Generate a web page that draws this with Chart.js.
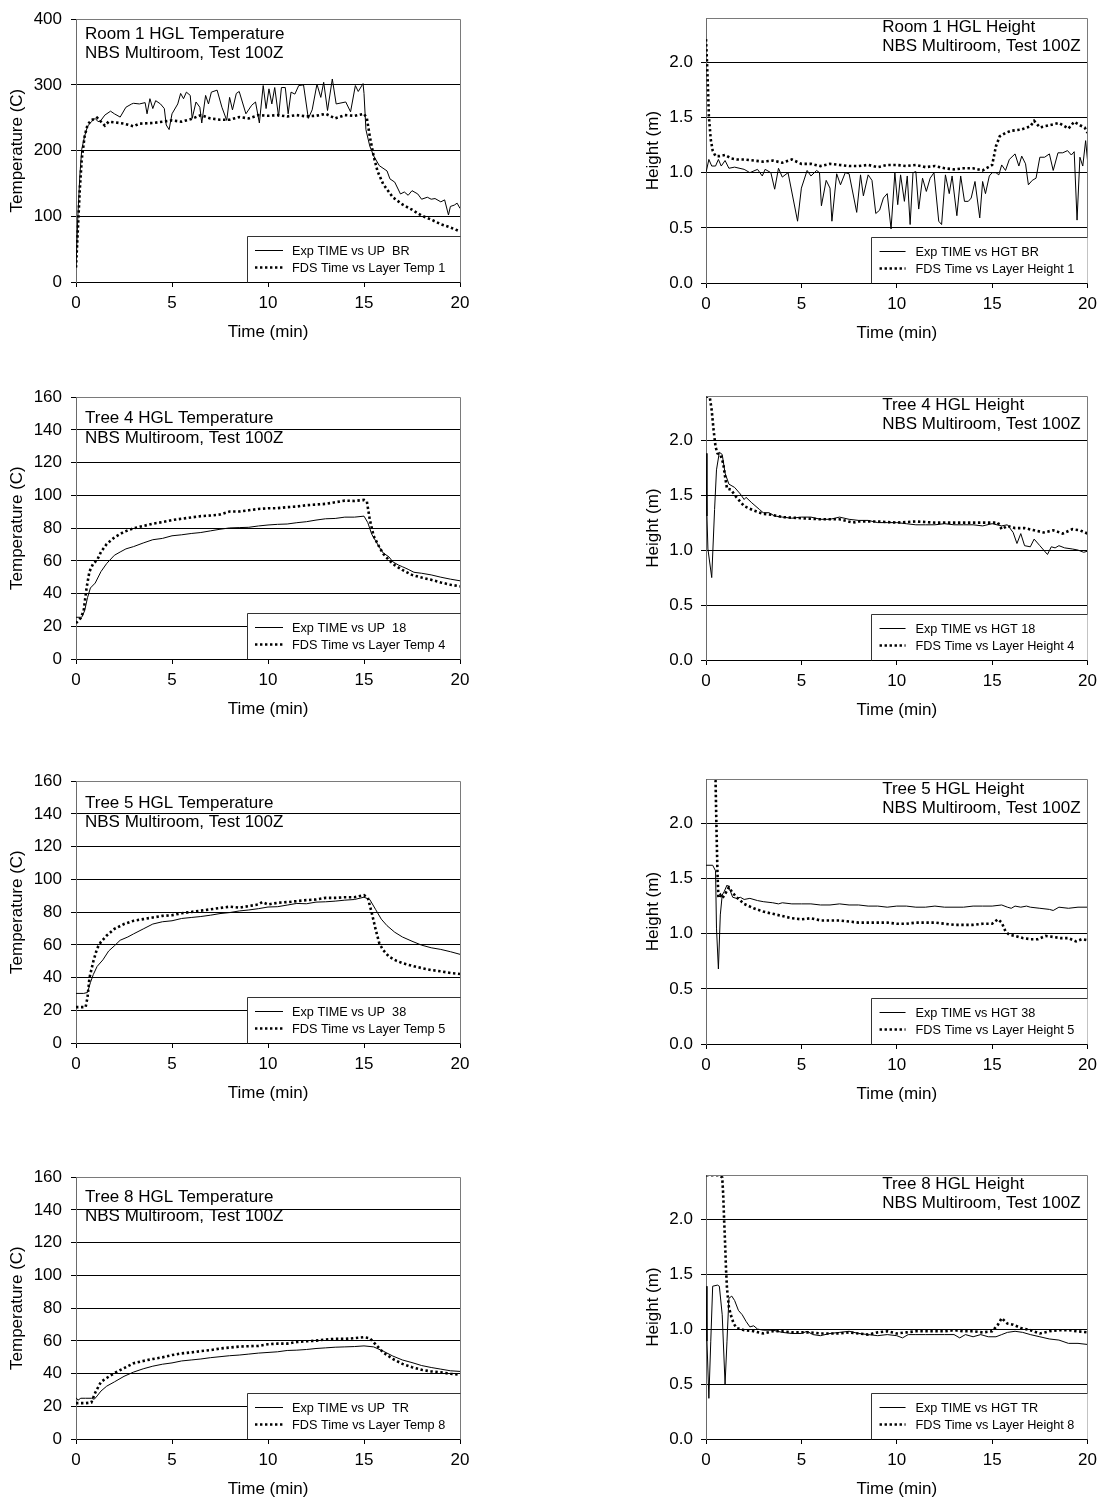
<!DOCTYPE html>
<html>
<head>
<meta charset="utf-8">
<script src="https://cdn.jsdelivr.net/npm/chart.js@4.4.0/dist/chart.umd.min.js"></script>
<style>
  html, body { margin: 0; padding: 0; background: #fff; }
  body { width: 1103px; height: 1502px; position: relative; overflow: hidden; }
  canvas { position: absolute; }
</style>
</head>
<body>
<canvas id="c0"></canvas><canvas id="c1"></canvas>
<canvas id="c2"></canvas><canvas id="c3"></canvas>
<canvas id="c4"></canvas><canvas id="c5"></canvas>
<canvas id="c6"></canvas><canvas id="c7"></canvas>
<script>
// ---------- DATA: [time (min), value] ----------
const room1TempExp = [[0,22],[0.1,102],[0.2,162],[0.3,202],[0.45,222],[0.6,237],[0.8,244],[1.0,249],[1.15,244],[1.3,246],[1.5,254],[1.8,260],[2.0,256],[2.3,251],[2.6,266],[2.9,271],[3.0,272],[3.3,271],[3.6,273],[3.7,256],[3.85,279],[4.0,264],[4.15,276],[4.4,271],[4.6,264],[4.7,239],[4.85,232],[5.0,256],[5.3,271],[5.45,287],[5.6,279],[5.75,289],[5.95,284],[6.05,249],[6.25,274],[6.45,266],[6.55,242],[6.75,284],[6.9,271],[7.05,289],[7.35,292],[7.6,266],[7.85,246],[8.0,281],[8.15,262],[8.35,287],[8.5,290],[8.85,256],[9.15,269],[9.35,274],[9.55,242],[9.75,299],[9.9,264],[10.05,294],[10.2,271],[10.35,296],[10.55,252],[10.7,296],[10.9,296],[11.05,256],[11.2,289],[11.4,286],[11.6,299],[11.85,300],[12.1,249],[12.3,262],[12.55,301],[12.75,281],[12.9,304],[13.1,261],[13.35,309],[13.55,271],[14.05,274],[14.3,259],[14.55,299],[14.7,290],[14.95,302],[15.0,287],[15.1,232],[15.3,207],[15.5,192],[15.8,177],[16.2,169],[16.35,157],[16.6,152],[16.9,134],[17.1,137],[17.3,132],[17.5,139],[17.8,134],[18.0,126],[18.3,129],[18.5,126],[18.7,127],[19.0,122],[19.2,125],[19.4,102],[19.5,115],[19.7,117],[19.85,120],[20.0,112]];
const room1TempFds = [[0,22],[0.1,82],[0.2,142],[0.3,187],[0.45,222],[0.6,239],[0.8,247],[1.0,248],[1.1,250],[1.3,244],[1.5,238],[1.7,244],[2.0,243],[2.5,241],[3.0,237],[3.3,241],[4.0,242],[4.5,244],[5.0,246],[5.5,244],[6.0,248],[6.5,254],[7.0,249],[7.5,247],[8.0,247],[8.5,251],[9.0,249],[9.5,254],[10.0,253],[10.5,254],[11.0,252],[11.5,254],[12.0,252],[12.5,253],[13.0,256],[13.5,249],[14.0,254],[14.5,253],[15.0,256],[15.15,249],[15.3,222],[15.5,192],[15.7,169],[16.0,149],[16.5,129],[17.0,118],[17.5,110],[18.0,101],[18.5,95],[19.0,88],[19.5,83],[20.0,77]];

const room1HgtExp = [[0,1.00],[0.15,1.12],[0.3,1.06],[0.5,1.06],[0.65,1.12],[0.8,1.06],[1.0,1.11],[1.2,1.04],[1.5,1.05],[2.0,1.03],[2.3,1.00],[2.7,1.03],[2.95,0.97],[3.1,1.03],[3.4,1.00],[3.6,0.85],[3.8,1.04],[4.0,0.96],[4.3,1.00],[4.8,0.56],[5.0,0.86],[5.3,1.02],[5.5,0.97],[5.8,1.02],[5.95,1.00],[6.05,0.70],[6.3,0.93],[6.5,0.86],[6.6,0.56],[6.85,0.99],[7.05,0.89],[7.3,1.00],[7.5,0.99],[7.9,0.64],[8.1,0.98],[8.25,0.79],[8.5,0.98],[8.7,0.93],[8.9,0.63],[9.1,0.66],[9.3,0.77],[9.5,0.81],[9.7,0.49],[9.9,1.00],[10.05,0.71],[10.2,0.98],[10.4,0.74],[10.55,0.97],[10.7,0.53],[10.85,1.00],[11.0,1.01],[11.15,0.67],[11.35,0.95],[11.55,0.83],[11.75,0.95],[11.95,1.00],[12.2,0.56],[12.35,0.53],[12.55,0.98],[12.75,0.81],[12.9,0.97],[13.15,0.61],[13.35,0.97],[13.55,0.74],[13.75,0.74],[13.9,0.77],[14.1,0.92],[14.35,0.59],[14.5,0.92],[14.65,0.81],[14.85,0.97],[15.0,1.00],[15.2,1.00],[15.35,0.98],[15.5,1.07],[15.7,1.02],[15.9,1.12],[16.2,1.17],[16.4,1.06],[16.55,1.15],[16.75,1.08],[16.9,0.89],[17.1,0.93],[17.3,0.95],[17.5,1.14],[17.75,1.14],[18.0,1.17],[18.2,1.02],[18.45,1.18],[18.7,1.18],[18.95,1.20],[19.15,1.16],[19.3,1.19],[19.45,0.57],[19.6,1.14],[19.75,1.06],[19.9,1.29],[20.0,1.11]];
const room1HgtFds = [[0,2.21],[0.05,2.01],[0.1,1.78],[0.15,1.51],[0.25,1.30],[0.35,1.20],[0.5,1.15],[0.7,1.15],[1.0,1.16],[1.3,1.13],[1.6,1.12],[2.0,1.12],[2.5,1.11],[3.0,1.10],[3.5,1.11],[4.0,1.09],[4.5,1.12],[5.0,1.08],[5.5,1.08],[6.0,1.06],[6.5,1.08],[7.0,1.07],[7.5,1.06],[8.0,1.06],[8.5,1.07],[9.0,1.05],[9.5,1.07],[10.0,1.07],[10.5,1.06],[11.0,1.07],[11.5,1.05],[12.0,1.06],[12.5,1.04],[13.0,1.03],[13.5,1.04],[14.0,1.04],[14.5,1.02],[14.8,1.05],[15.0,1.07],[15.2,1.24],[15.4,1.33],[15.7,1.36],[16.0,1.38],[16.5,1.39],[17.0,1.42],[17.2,1.47],[17.5,1.41],[18.0,1.43],[18.5,1.45],[19.0,1.40],[19.3,1.46],[19.6,1.43],[19.85,1.41],[20.0,1.36]];

const tree4TempExp = [[0,25.5],[0.3,25.5],[0.45,29.5],[0.6,37.5],[0.75,43.4],[1.0,46.4],[1.3,53.4],[1.6,58.4],[2.0,63.4],[2.3,65.4],[2.6,67.3],[3.0,68.7],[3.5,70.9],[4.0,72.9],[4.5,73.7],[5.0,75.3],[5.5,75.9],[6.0,76.7],[6.5,77.3],[7.0,78.3],[7.5,79.3],[8.0,80.1],[8.5,80.3],[9.0,80.5],[9.5,81.3],[10.0,81.9],[10.5,82.3],[11.0,82.5],[11.5,83.3],[12.0,83.9],[12.5,84.9],[13.0,85.7],[13.5,85.9],[14.0,86.7],[14.5,86.7],[15.0,87.3],[15.2,83.3],[15.4,76.3],[15.6,72.3],[15.8,68.3],[16.0,64.8],[16.3,62.4],[16.5,59.4],[16.8,57.4],[17.0,56.4],[17.3,54.8],[17.6,53.0],[18.0,52.4],[18.5,51.4],[19.0,50.0],[19.5,48.8],[20.0,47.8]];
const tree4TempFds = [[0,21.9],[0.25,25.1],[0.4,29.5],[0.55,43.4],[0.7,53.4],[0.9,58.4],[1.1,60.4],[1.3,65.4],[1.6,70.3],[2.0,74.3],[2.5,77.7],[3.0,79.9],[3.5,81.3],[4.0,82.7],[4.5,83.7],[5.0,84.9],[5.5,85.7],[6.0,86.5],[6.5,87.3],[7.0,87.7],[7.5,88.3],[8.0,90.1],[8.5,90.1],[9.0,90.9],[9.5,91.7],[10.0,92.1],[10.5,92.2],[11.0,92.8],[11.5,93.2],[12.0,94.0],[12.5,94.4],[13.0,94.8],[13.5,95.8],[14.0,96.8],[14.5,96.6],[15.0,97.2],[15.15,96.2],[15.3,85.3],[15.5,75.3],[15.8,68.3],[16.0,64.4],[16.3,60.4],[16.6,57.4],[17.0,54.4],[17.5,51.4],[18.0,49.8],[18.5,48.4],[19.0,46.8],[19.5,45.4],[20.0,44.4]];

const tree4HgtExp = [[0,1.88],[0.05,1.31],[0.1,1.01],[0.3,0.75],[0.45,1.37],[0.55,1.73],[0.7,1.89],[0.85,1.87],[1.0,1.70],[1.2,1.60],[1.5,1.57],[1.8,1.51],[2.0,1.46],[2.1,1.48],[2.4,1.43],[2.8,1.37],[3.0,1.34],[3.3,1.34],[3.6,1.31],[4.0,1.30],[4.5,1.29],[5.0,1.30],[5.5,1.30],[6.0,1.28],[6.5,1.28],[7.0,1.30],[7.5,1.28],[8.0,1.27],[8.5,1.27],[9.0,1.25],[9.5,1.25],[10.0,1.25],[10.5,1.24],[11.0,1.23],[11.5,1.23],[12.0,1.23],[12.5,1.24],[13.0,1.23],[13.5,1.23],[14.0,1.23],[14.5,1.22],[15.0,1.24],[15.5,1.22],[15.8,1.23],[16.1,1.16],[16.3,1.06],[16.5,1.15],[16.7,1.04],[17.0,1.03],[17.2,1.10],[17.5,1.04],[17.9,0.96],[18.1,1.03],[18.3,1.02],[18.5,1.04],[18.8,1.02],[19.2,1.01],[19.5,1.00],[19.8,0.98],[20.0,0.99]];
const tree4HgtFds = [[0,2.40],[0.2,2.39],[0.3,2.27],[0.4,2.09],[0.5,1.94],[0.6,1.88],[0.75,1.87],[0.9,1.79],[1.0,1.67],[1.1,1.56],[1.3,1.55],[1.6,1.48],[2.0,1.40],[2.5,1.36],[3.0,1.33],[3.5,1.32],[4.0,1.30],[5.0,1.29],[6.0,1.28],[7.0,1.28],[7.7,1.25],[8.0,1.26],[9.0,1.26],[10.0,1.25],[11.0,1.26],[12.0,1.25],[13.0,1.25],[14.0,1.25],[15.0,1.25],[15.3,1.25],[15.5,1.19],[15.8,1.22],[16.2,1.20],[16.7,1.20],[17.2,1.18],[17.7,1.16],[18.2,1.18],[18.7,1.15],[19.2,1.19],[19.6,1.18],[20.0,1.15]];

const tree5TempExp = [[0,30.3],[0.4,30.3],[0.6,30.9],[0.75,36.9],[0.9,41.8],[1.1,46.8],[1.4,50.8],[1.7,56.2],[2.0,59.4],[2.3,62.8],[2.7,64.8],[3.0,66.7],[3.5,69.7],[4.0,72.7],[4.5,74.1],[5.0,74.7],[5.5,76.1],[6.0,76.7],[6.5,77.3],[7.0,78.1],[7.5,79.1],[8.0,79.7],[8.5,80.7],[9.0,81.3],[9.5,82.1],[10.0,83.1],[10.5,83.3],[11.0,84.3],[11.5,85.3],[12.0,85.1],[12.5,86.1],[13.0,86.3],[13.5,86.7],[14.0,87.3],[14.5,87.7],[15.0,89.1],[15.3,87.7],[15.6,81.7],[15.9,75.7],[16.2,71.7],[16.6,67.7],[17.0,64.8],[17.5,62.2],[18.0,59.8],[18.5,58.2],[19.0,57.2],[19.5,55.8],[20.0,54.2]];
const tree5TempFds = [[0,21.9],[0.5,21.9],[0.6,27.9],[0.7,39.8],[0.9,49.8],[1.1,57.8],[1.3,61.8],[1.6,65.7],[2.0,69.7],[2.5,72.7],[3.0,74.7],[3.5,75.7],[4.0,76.7],[4.5,77.7],[5.0,78.1],[5.5,79.3],[6.0,80.1],[6.5,80.9],[7.0,81.7],[7.5,82.5],[8.0,83.3],[8.5,82.7],[9.0,83.7],[9.5,84.7],[9.7,86.1],[10.0,84.7],[10.5,85.7],[11.0,86.1],[11.5,86.7],[12.0,87.3],[12.5,87.7],[13.0,88.7],[13.5,88.7],[14.0,89.1],[14.5,89.1],[15.0,90.3],[15.2,88.7],[15.4,79.7],[15.6,69.7],[15.8,60.8],[16.0,56.8],[16.3,52.8],[16.7,50.2],[17.0,48.8],[17.5,47.2],[18.0,45.8],[18.5,44.6],[19.0,43.8],[19.5,42.8],[20.0,42.2]];

const tree5HgtExp = [[0,1.62],[0.35,1.62],[0.5,1.57],[0.55,1.05],[0.65,0.68],[0.75,1.17],[0.85,1.35],[0.95,1.38],[1.1,1.44],[1.2,1.42],[1.4,1.33],[1.6,1.32],[1.8,1.33],[2.0,1.31],[2.3,1.32],[2.7,1.30],[3.0,1.29],[3.5,1.28],[3.8,1.27],[4.0,1.28],[4.5,1.27],[5.0,1.27],[5.5,1.27],[6.0,1.26],[6.5,1.26],[7.0,1.27],[7.5,1.26],[8.0,1.26],[8.5,1.25],[9.0,1.25],[9.5,1.24],[10.0,1.25],[10.5,1.25],[11.0,1.24],[11.5,1.24],[12.0,1.25],[12.5,1.24],[13.0,1.24],[13.5,1.24],[14.0,1.25],[14.5,1.25],[15.0,1.25],[15.5,1.26],[15.8,1.24],[16.0,1.23],[16.2,1.25],[16.5,1.24],[16.8,1.25],[17.0,1.24],[17.5,1.23],[18.0,1.22],[18.2,1.21],[18.5,1.24],[19.0,1.23],[19.5,1.24],[20.0,1.24]];
const tree5HgtFds = [[0,2.41],[0.4,2.41],[0.5,2.39],[0.55,1.95],[0.6,1.56],[0.65,1.33],[0.75,1.35],[0.85,1.32],[1.0,1.36],[1.2,1.42],[1.4,1.37],[1.6,1.33],[2.0,1.27],[2.5,1.23],[3.0,1.20],[3.5,1.18],[4.0,1.16],[4.5,1.14],[5.0,1.13],[5.5,1.14],[6.0,1.12],[6.5,1.12],[7.0,1.12],[7.5,1.11],[8.0,1.10],[8.5,1.10],[9.0,1.10],[9.5,1.10],[10.0,1.09],[10.5,1.09],[11.0,1.10],[11.5,1.10],[12.0,1.10],[12.5,1.09],[13.0,1.08],[13.5,1.08],[14.0,1.08],[14.5,1.09],[15.0,1.09],[15.3,1.13],[15.5,1.10],[15.7,1.02],[15.9,0.99],[16.2,0.98],[16.6,0.96],[17.0,0.95],[17.4,0.95],[17.8,0.98],[18.2,0.97],[18.6,0.96],[19.0,0.96],[19.4,0.93],[19.7,0.95],[20.0,0.94]];

const tree8TempExp = [[0,25.3],[0.1,23.7],[0.25,24.9],[0.5,24.9],[0.8,24.9],[0.95,24.3],[1.1,26.3],[1.3,29.3],[1.6,32.3],[2.0,34.9],[2.5,38.3],[3.0,40.9],[3.5,42.9],[4.0,44.5],[4.5,45.7],[5.0,46.5],[5.5,47.7],[6.0,48.3],[6.5,48.9],[7.0,49.7],[7.5,50.3],[8.0,50.9],[8.5,51.3],[9.0,51.9],[9.5,52.5],[10.0,52.9],[10.5,53.3],[11.0,54.1],[11.5,54.3],[12.0,54.7],[12.5,55.3],[13.0,55.7],[13.5,56.1],[14.0,56.3],[14.5,56.5],[15.0,56.9],[15.5,56.3],[16.0,53.7],[16.5,50.7],[17.0,48.3],[17.5,46.7],[18.0,44.9],[18.5,43.7],[19.0,42.7],[19.5,41.7],[20.0,41.3]];
const tree8TempFds = [[0,21.9],[0.5,21.9],[0.8,22.3],[1.0,28.3],[1.3,34.9],[1.6,37.3],[2.0,40.3],[2.5,43.3],[3.0,46.3],[3.5,47.7],[4.0,48.9],[4.5,49.9],[5.0,51.3],[5.5,52.3],[6.0,52.9],[6.5,53.7],[7.0,54.3],[7.5,55.3],[8.0,55.9],[8.5,56.5],[9.0,56.7],[9.5,56.9],[10.0,57.9],[10.5,58.3],[11.0,58.3],[11.5,59.3],[12.0,59.7],[12.5,60.1],[13.0,60.8],[13.5,61.2],[14.0,61.2],[14.5,61.6],[15.0,62.2],[15.3,61.6],[15.6,57.9],[16.0,52.9],[16.5,48.9],[17.0,45.9],[17.5,43.9],[18.0,42.3],[18.5,41.3],[19.0,40.7],[19.5,39.9],[20.0,39.3]];

const tree8HgtExp = [[0,1.39],[0.05,0.89],[0.15,0.37],[0.25,0.89],[0.35,1.39],[0.6,1.40],[0.7,1.39],[0.85,1.13],[1.0,0.50],[1.1,0.89],[1.2,1.28],[1.35,1.30],[1.5,1.26],[1.7,1.17],[1.9,1.13],[2.1,1.07],[2.3,1.02],[2.5,1.03],[2.7,1.00],[3.0,0.99],[3.5,0.99],[4.0,0.97],[4.5,0.96],[5.0,0.96],[5.3,0.98],[5.6,0.95],[6.0,0.94],[6.5,0.96],[7.0,0.97],[7.5,0.98],[8.0,0.96],[8.5,0.95],[9.0,0.94],[9.5,0.95],[10.0,0.94],[10.3,0.92],[10.6,0.95],[11.0,0.95],[11.5,0.95],[12.0,0.95],[12.5,0.95],[13.0,0.95],[13.3,0.92],[13.6,0.95],[14.0,0.93],[14.4,0.95],[14.8,0.93],[15.2,0.93],[15.5,0.95],[15.8,0.97],[16.2,0.98],[16.6,0.97],[17.0,0.95],[17.5,0.93],[18.0,0.91],[18.5,0.90],[19.0,0.87],[19.5,0.87],[20.0,0.86]];
const tree8HgtFds = [[0,2.40],[0.7,2.40],[0.85,2.38],[0.9,2.23],[0.95,1.99],[1.0,1.78],[1.05,1.54],[1.1,1.37],[1.2,1.20],[1.3,1.13],[1.45,1.05],[1.6,1.01],[2.0,0.99],[2.5,0.98],[3.0,0.96],[3.5,0.98],[4.0,0.98],[4.5,0.97],[5.0,0.97],[5.5,0.97],[6.0,0.96],[6.5,0.96],[7.0,0.96],[7.5,0.97],[8.0,0.96],[8.5,0.95],[9.0,0.97],[9.5,0.98],[10.0,0.96],[10.5,0.97],[11.0,0.98],[11.5,0.98],[12.0,0.98],[12.5,0.98],[13.0,0.99],[13.5,0.98],[14.0,0.98],[14.5,0.97],[15.0,0.98],[15.3,1.04],[15.5,1.10],[15.8,1.05],[16.1,1.04],[16.5,1.01],[17.0,0.99],[17.5,0.96],[18.0,0.98],[18.5,0.99],[19.0,0.99],[19.5,0.98],[20.0,0.97]];

// ---------- TEXT ----------
const subTitle = 'NBS Multiroom, Test 100Z';
const xTitle = 'Time (min)';
const tempTitle = 'Temperature (C)';
const hgtTitle = 'Height (m)';

// ---------- PANELS (layout + which data) ----------
const panels = [
  { top: 0,    plotH: 268, xh: 68, side: 'L', yMax: 400, yStep: 100, kind: 'T', title: 'Room 1 HGL Temperature', ty: [15, 34], exp: room1TempExp, fds: room1TempFds, expLabel: 'Exp TIME vs UP  BR', fdsLabel: 'FDS Time vs Layer Temp 1' },
  { top: 0,    plotH: 269, xh: 68, side: 'R', yMax: 2.4, yStep: 0.5, kind: 'H', title: 'Room 1 HGL Height', ty: [9, 28], exp: room1HgtExp, fds: room1HgtFds, expLabel: 'Exp TIME vs HGT BR', fdsLabel: 'FDS Time vs Layer Height 1' },
  { top: 378,  plotH: 267, xh: 68, side: 'L', yMax: 160, yStep: 20, kind: 'T', title: 'Tree 4 HGL Temperature', ty: [21, 41], exp: tree4TempExp, fds: tree4TempFds, expLabel: 'Exp TIME vs UP  18', fdsLabel: 'FDS Time vs Layer Temp 4' },
  { top: 378,  plotH: 268, xh: 68, side: 'R', yMax: 2.4, yStep: 0.5, kind: 'H', title: 'Tree 4 HGL Height', ty: [9, 28], exp: tree4HgtExp, fds: tree4HgtFds, expLabel: 'Exp TIME vs HGT 18', fdsLabel: 'FDS Time vs Layer Height 4' },
  { top: 762,  plotH: 267, xh: 68, side: 'L', yMax: 160, yStep: 20, kind: 'T', title: 'Tree 5 HGL Temperature', ty: [22, 41], exp: tree5TempExp, fds: tree5TempFds, expLabel: 'Exp TIME vs UP  38', fdsLabel: 'FDS Time vs Layer Temp 5' },
  { top: 761,  plotH: 269, xh: 68, side: 'R', yMax: 2.4, yStep: 0.5, kind: 'H', title: 'Tree 5 HGL Height', ty: [10, 29], exp: tree5HgtExp, fds: tree5HgtFds, expLabel: 'Exp TIME vs HGT 38', fdsLabel: 'FDS Time vs Layer Height 5' },
  { top: 1158, plotH: 267, xh: 63, side: 'L', yMax: 160, yStep: 20, kind: 'T', title: 'Tree 8 HGL Temperature', ty: [20, 39], exp: tree8TempExp, fds: tree8TempFds, expLabel: 'Exp TIME vs UP  TR', fdsLabel: 'FDS Time vs Layer Temp 8' },
  { top: 1157, plotH: 268, xh: 63, side: 'R', yMax: 2.4, yStep: 0.5, kind: 'H', title: 'Tree 8 HGL Height', ty: [9, 28], exp: tree8HgtExp, fds: tree8HgtFds, expLabel: 'Exp TIME vs HGT TR', fdsLabel: 'FDS Time vs Layer Height 8' }
];

const FONT = '"Liberation Sans", Arial, Helvetica, sans-serif';
Chart.defaults.font.family = FONT;
Chart.defaults.color = '#000';

const al = v => Math.round(v - 0.5) + 0.5;

const overlay = {
  id: 'overlay',
  afterDatasetsDraw(chart, args, o) {
    const ctx = chart.ctx, a = chart.chartArea;
    ctx.save();
    // plot frame (top + right)
    ctx.strokeStyle = '#7a7a7a';
    ctx.lineWidth = 1;
    ctx.beginPath();
    ctx.moveTo(al(a.left), al(a.top));
    ctx.lineTo(al(a.right), al(a.top));
    ctx.lineTo(al(a.right), al(a.bottom));
    ctx.stroke();
    // annotation text
    ctx.font = '17px ' + FONT;
    ctx.fillStyle = '#000';
    ctx.textBaseline = 'middle';
    ctx.textAlign = 'left';
    let tx;
    if (o.side === 'L') {
      tx = a.left + 9;
    } else {
      const w = Math.max(...o.lines.map(t => ctx.measureText(t).width));
      tx = a.right - 7 - w;
    }
    o.lines.forEach((t, i) => ctx.fillText(t, tx, a.top + o.ty[i]));
    // legend box
    const lw = o.side === 'L' ? 213 : 216, lh = 46;
    const lx = a.right - lw, ly = a.bottom - lh;
    ctx.fillStyle = '#fff';
    ctx.fillRect(lx, ly, lw, lh);
    ctx.strokeStyle = '#333';
    ctx.lineWidth = 1;
    ctx.beginPath();
    ctx.moveTo(al(lx), al(a.bottom));
    ctx.lineTo(al(lx), al(ly));
    ctx.lineTo(al(a.right), al(ly));
    ctx.stroke();
    const sx0 = lx + 8, sx1 = lx + (o.side === 'L' ? 36 : 34), txL = lx + (o.side === 'L' ? 45 : 44);
    ctx.font = '12.7px ' + FONT;
    ctx.fillStyle = '#000';
    chart.data.datasets.forEach((ds, i) => {
      const yy = ly + (i === 0 ? 14 : 31);
      ctx.save();
      ctx.strokeStyle = ds.borderColor;
      ctx.lineWidth = ds.borderWidth;
      ctx.setLineDash(ds.borderDash || []);
      ctx.lineCap = 'butt';
      ctx.beginPath();
      ctx.moveTo(sx0, Math.round(yy) + 0.5);
      ctx.lineTo(sx1, Math.round(yy) + 0.5);
      ctx.stroke();
      ctx.restore();
      ctx.fillText(ds.label, txL, yy + 1);
    });
    ctx.restore();
  }
};

panels.forEach((p, idx) => {
  const isL = p.side === 'L';
  const cv = document.getElementById('c' + idx);
  const cw = isL ? 480 : 483;
  const ch = 14 + p.plotH + p.xh;
  cv.width = cw; cv.height = ch;
  cv.style.left = (isL ? 0 : 620) + 'px';
  cv.style.top = p.top + 'px';
  cv.style.width = cw + 'px'; cv.style.height = ch + 'px';
  const yW = isL ? 76 : 86;

  new Chart(cv, {
    type: 'line',
    data: {
      datasets: [
        { label: p.expLabel, data: p.exp.map(d => ({ x: d[0], y: d[1] })), borderColor: '#000', borderWidth: 1, pointRadius: 0, tension: 0, fill: false },
        { label: p.fdsLabel, data: p.fds.map(d => ({ x: d[0], y: d[1] })), borderColor: '#000', borderWidth: 2.6, borderDash: [2.4, 2.6], borderCapStyle: 'butt', pointRadius: 0, tension: 0, fill: false }
      ]
    },
    options: {
      responsive: false,
      devicePixelRatio: 1,
      animation: false,
      events: [],
      layout: { padding: { left: 0, right: isL ? 20 : 13, top: 14, bottom: 0 } },
      plugins: {
        legend: { display: false },
        tooltip: { enabled: false },
        overlay: { side: p.side, lines: [p.title, subTitle], ty: p.ty }
      },
      scales: {
        x: {
          type: 'linear', min: 0, max: 20,
          ticks: { stepSize: 5, font: { size: 17 }, color: '#000', padding: 6, maxRotation: 0 },
          grid: { drawOnChartArea: false, drawTicks: true, tickLength: 5, color: '#000' },
          border: { display: true, color: '#000', width: 1 },
          title: { display: true, text: xTitle, font: { size: 17 }, color: '#000', padding: { top: 0, bottom: p.xh - 50 - 10.2 } },
          afterFit: s => { s.height = p.xh; }
        },
        y: {
          type: 'linear', min: 0, max: p.yMax,
          ticks: {
            stepSize: p.yStep, includeBounds: false, font: { size: 17 }, color: '#000', padding: isL ? 9 : 8,
            callback: v => p.kind === 'H' ? Number(v).toFixed(1) : String(v)
          },
          grid: { drawOnChartArea: true, drawTicks: true, tickLength: 5, color: '#000', lineWidth: 1 },
          border: { display: true, color: '#6a6a6a', width: 1 },
          title: { display: true, text: p.kind === 'H' ? hgtTitle : tempTitle, font: { size: 17 }, color: '#000', padding: { top: isL ? 6.8 : 22.8, bottom: 0 } },
          afterFit: s => { s.width = yW; }
        }
      }
    },
    plugins: [overlay]
  });
});
</script>
</body>
</html>
